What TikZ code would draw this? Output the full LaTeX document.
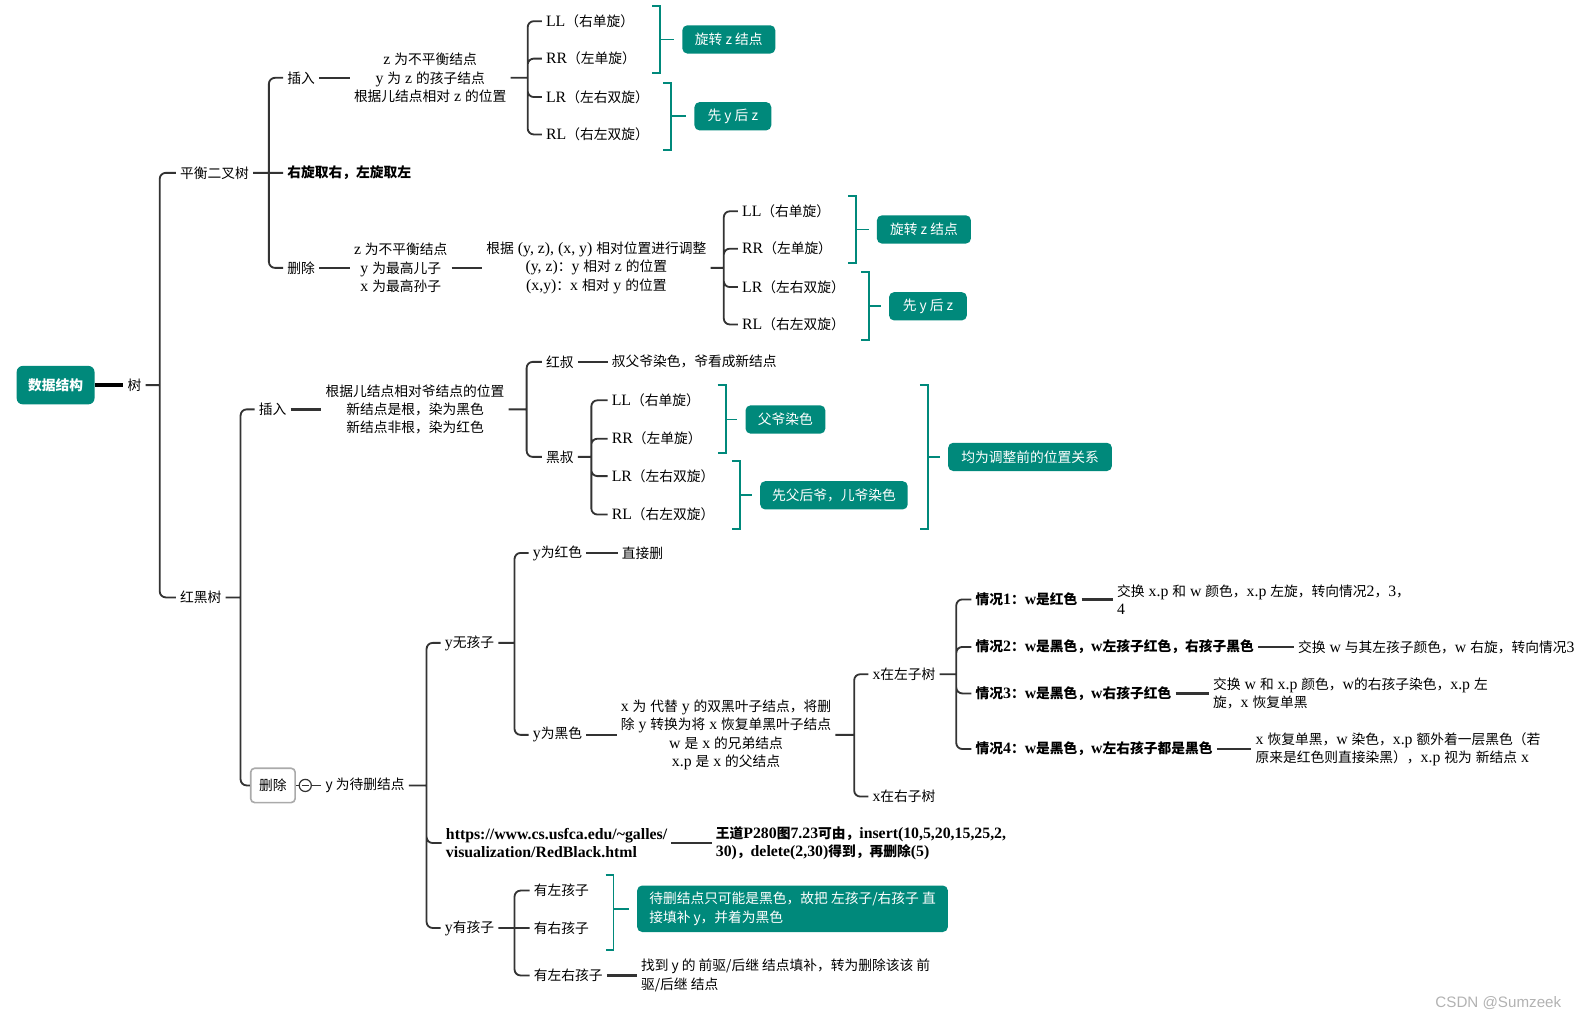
\documentclass[tikz,border=0pt]{standalone}
\usepackage{fontspec}
\usepackage{tikz}

\setmainfont{Liberation Serif}[Scale=1.15]
\setsansfont{Liberation Sans}
\newfontfamily\cjk{Noto Sans CJK SC}

% switch to the CJK family for Chinese characters, back to serif for the rest
\newXeTeXintercharclass\cjkclass
\newcount\cjkcode
\newcommand\cjkrange[2]{%
  \cjkcode=#1\relax
  \loop
    \XeTeXcharclass\cjkcode=\cjkclass
  \ifnum\cjkcode<#2\relax
    \advance\cjkcode by 1
  \repeat}
\cjkrange{"3000}{"303F}
\cjkrange{"4E00}{"9FFF}
\cjkrange{"FF00}{"FFEF}
\XeTeXinterchartoks 0 \cjkclass = {\cjk}
\XeTeXinterchartoks 4095 \cjkclass = {\cjk}
\XeTeXinterchartoks \cjkclass 0 = {\rmfamily}
\XeTeXinterchartoks \cjkclass 4095 = {\rmfamily}
\XeTeXinterchartokenstate=1

\definecolor{mmteal}{RGB}{0,137,123}
\definecolor{linegray}{RGB}{51,51,51}
\definecolor{delgray}{RGB}{170,170,170}
\newcommand\mmsize{\fontsize{13.6}{18}\selectfont}

\begin{document}
\begin{tikzpicture}[
        x=1pt, y=-1pt,
        font=\mmsize,
        topic/.style={anchor=west, inner xsep=4pt, inner ysep=2pt, align=center},
        note/.style={anchor=west, inner xsep=4pt, inner ysep=2pt, align=left},
        strong/.style={font=\mmsize\bfseries},
        plainsans/.style={font={\mmsize\XeTeXinterchartokenstate=0 \cjk}},
        rootbox/.style={rectangle, rounded corners=6pt, fill=mmteal, text=white, minimum width=77pt, minimum height=38pt, inner sep=0pt, font={\mmsize\bfseries\XeTeXinterchartokenstate=0 \cjk}},
        tealbox/.style={rectangle, rounded corners=5pt, fill=mmteal, text=white, minimum height=28pt, inner sep=0pt, align=left, font={\mmsize\XeTeXinterchartokenstate=0 \cjk}},
        delbox/.style={rectangle, rounded corners=4pt, draw=delgray, line width=1.6pt, fill=white, minimum width=44pt, minimum height=34pt, inner sep=0pt},
        foldmark/.style={circle, draw=linegray, line width=1.2pt, minimum size=12pt, inner sep=0pt},
        branch/.style={draw=linegray, line width=1.8pt, rounded corners=6pt},
        link/.style={draw=linegray, line width=2.4pt},
        thinlink/.style={draw=linegray, line width=1.4pt},
        rootlink/.style={draw=black, line width=3.5pt},
        bracket/.style={draw=mmteal, line width=1.8pt},
        tick/.style={draw=mmteal, line width=1.8pt, shorten >=8pt}
    ]
        \useasboundingbox (0,0) rectangle (1568,1008);

        % --- Root ---
        \node (ds) [rootbox] at (55,381) {数据结构};
        \node (shu) [topic] at (122,381) {树};
        \coordinate (shuj) at (158,381);

        % --- Balanced binary tree ---
        \node (avl) [topic] at (174,171) {平衡二叉树};
        \coordinate (avlj) at (266,171);
        \node (avlins) [topic] at (280,77) {插入};
        \node (avlrule) [topic, strong] at (280,171) {右旋取右，左旋取左};
        \node (avldel) [topic] at (280,265) {删除};

        \node (avlinsnote) [topic] at (346,77) {z 为不平衡结点\\y 为 z 的孩子结点\\根据儿结点相对 z 的位置};
        \coordinate (avlinsj) at (522,77);
        \node (insll) [topic] at (536,21) {LL（右单旋）};
        \node (insrr) [topic] at (536,58) {RR（左单旋）};
        \node (inslr) [topic] at (536,96) {LR（左右双旋）};
        \node (insrl) [topic] at (536,133) {RL（右左双旋）};
        \node (rotz1) [tealbox, minimum width=92pt] at (721,39) {旋转 z 结点};
        \node (yz1) [tealbox, minimum width=76pt] at (725,115) {先 y 后 z};
        \coordinate (br1) at (653,39);
        \coordinate (br2) at (664,115);

        \node (avldelnote) [topic] at (346,265) {z 为不平衡结点\\y 为最高儿子\\x 为最高孙子};
        \node (avldeladj) [topic] at (477,265) {根据 (y, z), (x, y) 相对位置进行调整\\(y, z)：y 相对 z 的位置\\(x,y)：x 相对 y 的位置};
        \coordinate (avldelj) at (716,265);
        \node (delll) [topic] at (730,209) {LL（右单旋）};
        \node (delrr) [topic] at (730,246) {RR（左单旋）};
        \node (dellr) [topic] at (730,284) {LR（左右双旋）};
        \node (delrl) [topic] at (730,321) {RL（右左双旋）};
        \node (rotz2) [tealbox, minimum width=93pt] at (914,227) {旋转 z 结点};
        \node (yz2) [tealbox, minimum width=77pt] at (918,303) {先 y 后 z};
        \coordinate (br3) at (847,227);
        \coordinate (br4) at (860,303);

        % --- Red-black tree: insert ---
        \node (rbt) [topic] at (174,591) {红黑树};
        \coordinate (rbtj) at (238,591);
        \node (rbins) [topic] at (252,405) {插入};
        \node (rbinsnote) [topic] at (318,405) {根据儿结点相对爷结点的位置\\新结点是根，染为黑色\\新结点非根，染为红色};
        \coordinate (rbinsj) at (521,405);
        \node (hongshu) [topic] at (536,358) {红叔};
        \node (hongnote) [topic] at (601,358) {叔父爷染色，爷看成新结点};
        \node (heishu) [topic] at (536,452) {黑叔};
        \coordinate (heishuj) at (585,452);
        \node (hsll) [topic] at (601,396) {LL（右单旋）};
        \node (hsrr) [topic] at (601,434) {RR（左单旋）};
        \node (hslr) [topic] at (601,471) {LR（左右双旋）};
        \node (hsrl) [topic] at (601,509) {RL（右左双旋）};
        \node (fuye) [tealbox, minimum width=79pt] at (777,415) {父爷染色};
        \node (xianfu) [tealbox, minimum width=146pt] at (825,490) {先父后爷，儿爷染色};
        \node (junwei) [tealbox, minimum width=162pt] at (1019,452) {均为调整前的位置关系};
        \coordinate (br5) at (718,415);
        \coordinate (br6) at (732,490);
        \coordinate (br7) at (918,452);

        % --- Red-black tree: delete ---
        \node (rbdel) [delbox] at (270,777) {删除};
        \node (fold) [foldmark] at (302,777) {};
        \node (ydel) [topic, plainsans] at (318,777) {y 为待删结点};
        \coordinate (ydelj) at (422,777);
        \node (ynochild) [topic] at (436,636) {y无孩子};
        \coordinate (ynoj) at (509,636);
        \node (yred) [topic] at (523,547) {y为红色};
        \node (zhijie) [topic] at (611,547) {直接删};
        \node (yblack) [topic] at (523,727) {y为黑色};
        \node (yblacknote) [topic] at (610,727) {x 为 代替 y 的双黑叶子结点，将删\\除 y 转换为将 x 恢复单黑叶子结点\\w 是 x 的兄弟结点\\x.p 是 x 的父结点};
        \coordinate (yblackj) at (845,727);
        \node (xleft) [topic] at (859,667) {x在左子树};
        \node (xright) [topic] at (859,788) {x在右子树};
        \coordinate (xleftj) at (946,667);
        \node (case1) [topic, strong] at (961,593) {情况1：w是红色};
        \node (case2) [topic, strong] at (961,640) {情况2：w是黑色，w左孩子红色，右孩子黑色};
        \node (case3) [topic, strong] at (961,686) {情况3：w是黑色，w右孩子红色};
        \node (case4) [topic, strong] at (961,741) {情况4：w是黑色，w左右孩子都是黑色};
        \node (case1note) [note] at (1101,593) {交换 x.p 和 w 颜色，x.p 左旋，转向情况2，3，\\4};
        \node (case2note) [note] at (1280,640) {交换 w 与其左孩子颜色，w 右旋，转向情况3};
        \node (case3note) [note] at (1196,686) {交换 w 和 x.p 颜色，w的右孩子染色，x.p 左\\旋，x 恢复单黑};
        \node (case4note) [note] at (1238,741) {x 恢复单黑，w 染色，x.p 额外着一层黑色（若\\原来是红色则直接染黑），x.p 视为 新结点 x};

        \node (url) [note, strong] at (437,834) {https://www.cs.usfca.edu/\textasciitilde galles/\\visualization/RedBlack.html};
        \node (wangdao) [note, strong] at (704,834) {王道P280图7.23可由，insert(10,5,20,15,25,2,\\30)，delete(2,30)得到，再删除(5)};

        \node (yhaschild) [topic] at (436,918) {y有孩子};
        \coordinate (yhasj) at (509,918);
        \node (leftchild) [topic] at (524,881) {有左孩子};
        \node (rightchild) [topic] at (524,918) {有右孩子};
        \node (bothchild) [topic] at (524,965) {有左右孩子};
        \node (bothnote) [note, plainsans] at (630,965) {找到 y 的 前驱/后继 结点填补，转为删除该该 前\\驱/后继 结点};
        \node (fillnote) [tealbox, inner xsep=12pt, minimum height=46pt] at (784,899) {待删结点只可能是黑色，故把 左孩子/右孩子 直\\接填补 y，并着为黑色};
        \coordinate (br8) at (607,899);

        \node (mark) [anchor=west, text=gray!60, font={\sffamily\fontsize{15}{17}\selectfont}] at (1416,992) {CSDN @Sumzeek};

        % --- Connections ---
        \draw [rootlink] (ds.east) -- (shu.west);
        \draw [branch] (shu.east) -- (shuj) (shuj) |- (avl.west) (shuj) |- (rbt.west);

        \draw [branch] (avl.east) -- (avlj) (avlj) |- (avlins.west) (avlj) -- (avlrule.west) (avlj) |- (avldel.west);
        \draw [link] (avlins) -- (avlinsnote);
        \draw [branch] (avlinsnote.east) -- (avlinsj) (avlinsj) |- (insll.west) (avlinsj) |- (insrr.west) (avlinsj) |- (inslr.west) (avlinsj) |- (insrl.west);
        \draw [link] (avldel) -- (avldelnote);
        \draw [link] (avldelnote) -- (avldeladj);
        \draw [branch] (avldeladj.east) -- (avldelj) (avldelj) |- (delll.west) (avldelj) |- (delrr.west) (avldelj) |- (dellr.west) (avldelj) |- (delrl.west);

        \draw [branch] (rbt.east) -- (rbtj) (rbtj) |- (rbins.west) (rbtj) |- (rbdel.west);
        \draw [link] (rbins) -- (rbinsnote);
        \draw [branch] (rbinsnote.east) -- (rbinsj) (rbinsj) |- (hongshu.west) (rbinsj) |- (heishu.west);
        \draw [link] (hongshu) -- (hongnote);
        \draw [branch] (heishu.east) -- (heishuj) (heishuj) |- (hsll.west) (heishuj) |- (hsrr.west) (heishuj) |- (hslr.west) (heishuj) |- (hsrl.west);

        \draw [thinlink] (rbdel) -- (fold);
        \draw [thinlink, shorten <=3pt, shorten >=3pt] (fold.west) -- (fold.east);
        \draw [thinlink] (fold) -- (ydel);
        \draw [branch] (ydel.east) -- (ydelj) (ydelj) |- (ynochild.west) (ydelj) |- (url.west) (ydelj) |- (yhaschild.west);
        \draw [branch] (ynochild.east) -- (ynoj) (ynoj) |- (yred.west) (ynoj) |- (yblack.west);
        \draw [link] (yred) -- (zhijie);
        \draw [link] (yblack) -- (yblacknote);
        \draw [branch] (yblacknote.east) -- (yblackj) (yblackj) |- (xleft.west) (yblackj) |- (xright.west);
        \draw [branch] (xleft.east) -- (xleftj) (xleftj) |- (case1.west) (xleftj) |- (case2.west) (xleftj) |- (case3.west) (xleftj) |- (case4.west);
        \draw [link] (case1) -- (case1note);
        \draw [link] (case2) -- (case2note);
        \draw [link] (case3) -- (case3note);
        \draw [link] (case4) -- (case4note);
        \draw [link] (url) -- (wangdao);
        \draw [branch] (yhaschild.east) -- (yhasj) (yhasj) |- (leftchild.west) (yhasj) -- (rightchild.west) (yhasj) |- (bothchild.west);
        \draw [link] (bothchild) -- (bothnote);

        % --- Brackets ---
        \draw [bracket] (645,6) -| (653,72) -- (645,72);
        \draw [tick] (br1) -- (rotz1.west);
        \draw [bracket] (656,82) -| (664,148) -- (656,148);
        \draw [tick] (br2) -- (yz1.west);
        \draw [bracket] (839,194) -| (847,260) -- (839,260);
        \draw [tick] (br3) -- (rotz2.west);
        \draw [bracket] (852,269) -| (860,336) -- (852,336);
        \draw [tick] (br4) -- (yz2.west);
        \draw [bracket] (710,381) -| (718,448) -- (710,448);
        \draw [tick] (br5) -- (fuye.west);
        \draw [bracket] (724,456) -| (732,523) -- (724,523);
        \draw [tick] (br6) -- (xianfu.west);
        \draw [bracket] (910,381) -| (918,523) -- (910,523);
        \draw [tick] (br7) -- (junwei.west);
        \draw [bracket] (599,866) -| (607,940) -- (599,940);
        \draw [tick] (br8) -- (fillnote.west);

    \end{tikzpicture}
\end{document}
